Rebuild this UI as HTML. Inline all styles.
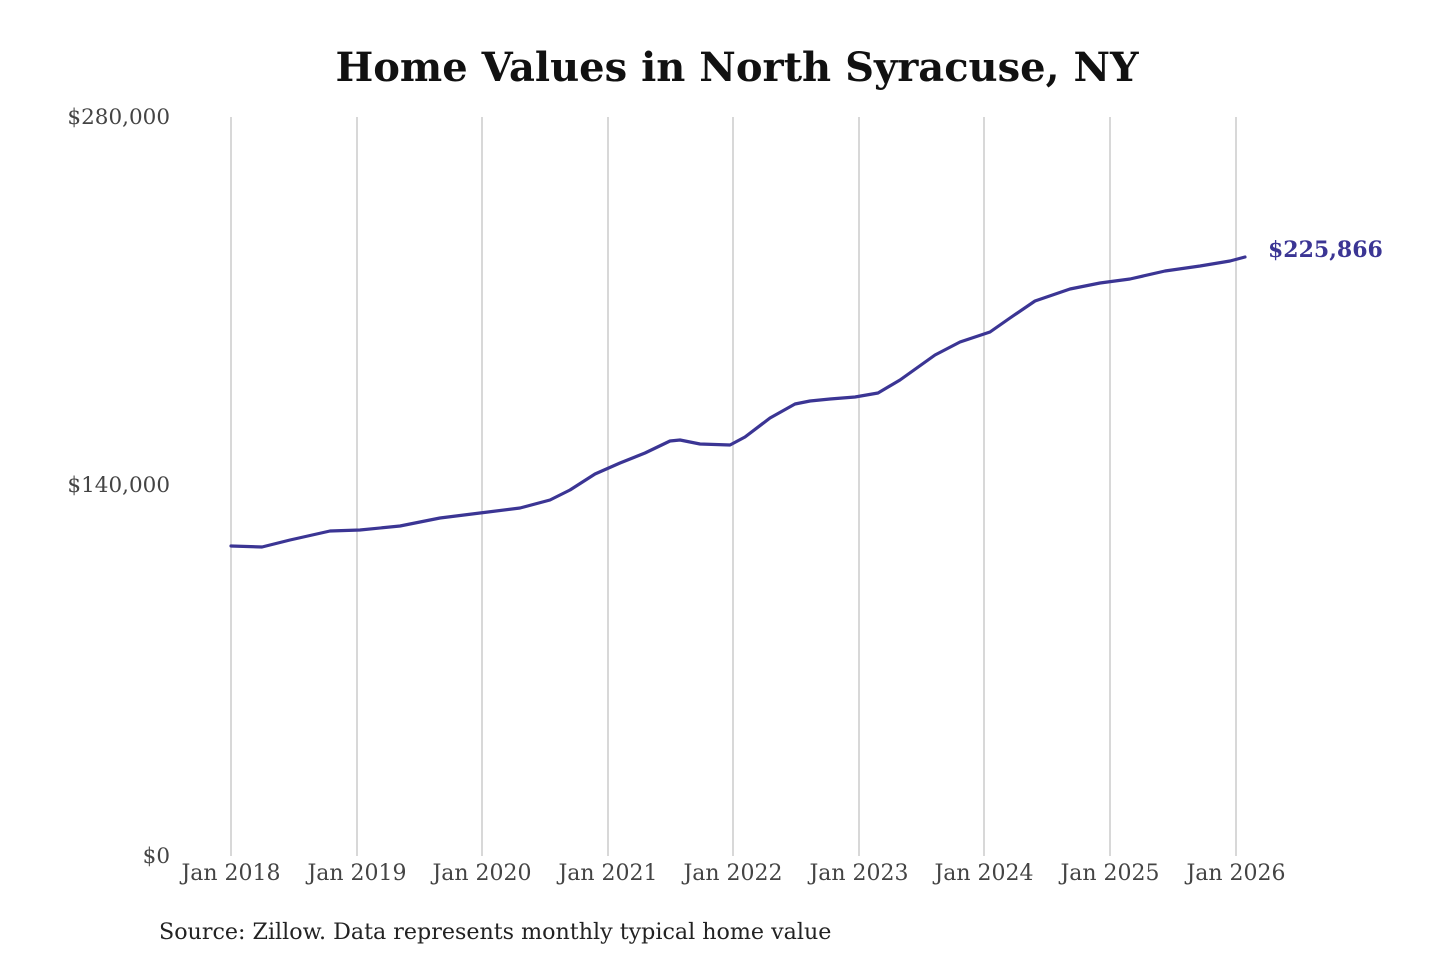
<!DOCTYPE html>
<html><head><meta charset="utf-8"><style>
html,body{margin:0;padding:0;background:#fff;}
svg{display:block;}
</style></head><body>
<svg width="1440" height="960" viewBox="0 0 1440 960" xmlns="http://www.w3.org/2000/svg">
<rect width="1440" height="960" fill="#fff"/>
<text x="737" y="81" text-anchor="middle" font-family="DejaVu Serif, Liberation Serif, serif" font-weight="bold" font-size="40" fill="#111">Home Values in North Syracuse, NY</text>
<g stroke="#c4c4c4" stroke-width="1.3">
<line x1="231" y1="117" x2="231" y2="856"/>
<line x1="357" y1="117" x2="357" y2="856"/>
<line x1="482" y1="117" x2="482" y2="856"/>
<line x1="608" y1="117" x2="608" y2="856"/>
<line x1="733" y1="117" x2="733" y2="856"/>
<line x1="859" y1="117" x2="859" y2="856"/>
<line x1="984" y1="117" x2="984" y2="856"/>
<line x1="1110" y1="117" x2="1110" y2="856"/>
<line x1="1236" y1="117" x2="1236" y2="856"/>
</g>
<g font-family="DejaVu Serif, Liberation Serif, serif" font-size="21.5" fill="#444">
<text x="170" y="124" text-anchor="end">$280,000</text>
<text x="170" y="492" text-anchor="end">$140,000</text>
<text x="170" y="863" text-anchor="end">$0</text>
</g>
<g font-family="DejaVu Serif, Liberation Serif, serif" font-size="22" fill="#444" text-anchor="middle">
<text x="231" y="880">Jan 2018</text>
<text x="357" y="880">Jan 2019</text>
<text x="482" y="880">Jan 2020</text>
<text x="608" y="880">Jan 2021</text>
<text x="733" y="880">Jan 2022</text>
<text x="859" y="880">Jan 2023</text>
<text x="984" y="880">Jan 2024</text>
<text x="1110" y="880">Jan 2025</text>
<text x="1236" y="880">Jan 2026</text>
</g>
<polyline fill="none" stroke="#3b3594" stroke-width="3.2" stroke-linejoin="round" stroke-linecap="round" points="231,546 262,547 290,540 330,531 360,530 400,526 440,518 480,513 520,508 550,500 570,490 595,474 620,463 645,453 670,441 680,440 700,444 730,445 745,437 770,418 795,404 810,401 830,399 855,397 878,393 900,380 935,355 960,342 990,332 1010,318 1035,301 1070,289 1100,283 1130,279 1165,271 1200,266 1230,261 1245,257"/>
<text x="1268" y="257" font-family="DejaVu Serif, Liberation Serif, serif" font-weight="bold" font-size="22" fill="#3b3594">$225,866</text>
<text x="159" y="939" font-family="DejaVu Serif, Liberation Serif, serif" font-size="22.2" fill="#222">Source: Zillow. Data represents monthly typical home value</text>
</svg>
</body></html>
